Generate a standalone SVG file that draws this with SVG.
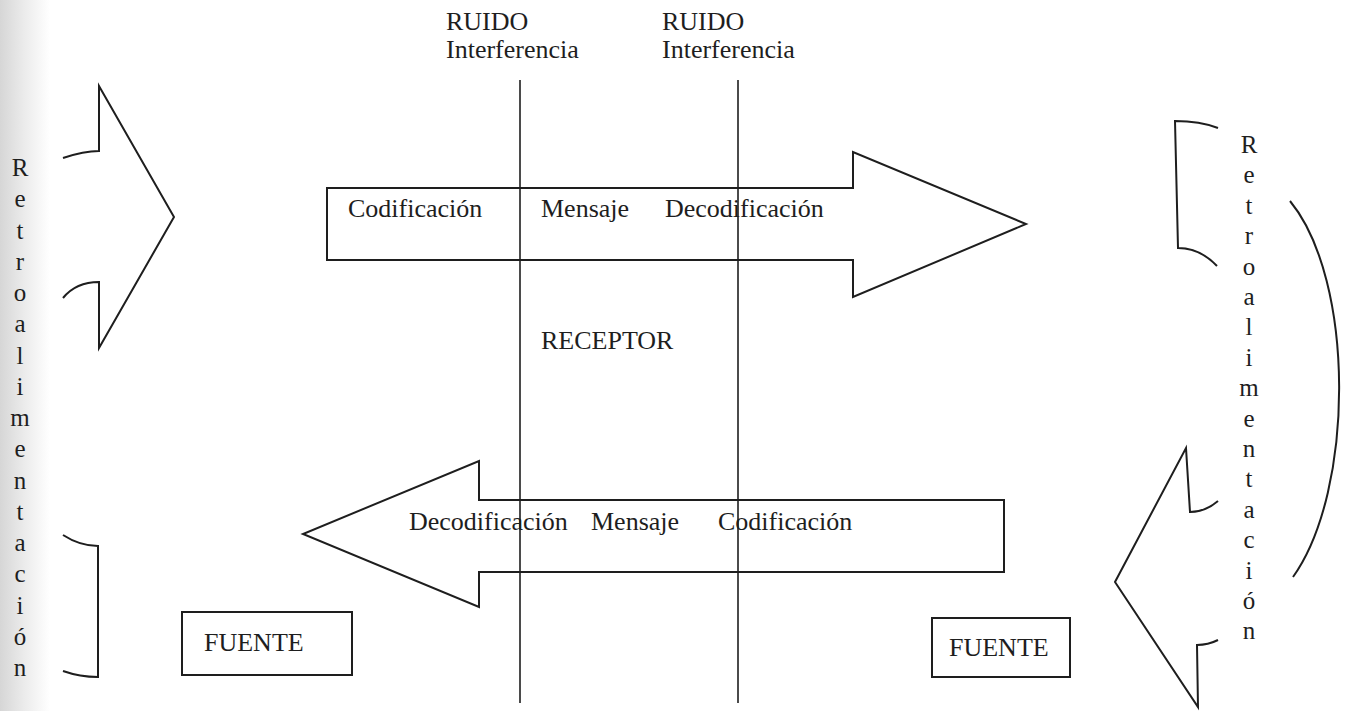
<svg xmlns="http://www.w3.org/2000/svg" width="1349" height="711" viewBox="0 0 1349 711">
  <defs>
    <linearGradient id="scan" x1="0" y1="0" x2="1" y2="0">
      <stop offset="0" stop-color="#d6d6d6"/>
      <stop offset="0.5" stop-color="#ececec"/>
      <stop offset="1" stop-color="#ffffff"/>
    </linearGradient>
  </defs>
  <style>
    .t { font-family: "Liberation Serif", "Times New Roman", serif; font-size: 26px; fill: #1e1e1e; }
    .col { font-family: "Liberation Serif", "Times New Roman", serif; font-size: 25px; fill: #1e1e1e; text-anchor: middle; }
    .s { fill: none; stroke: #1e1e1e; stroke-width: 2; stroke-linejoin: miter; }
    .box { fill: #ffffff; stroke: #1e1e1e; stroke-width: 2; }
    .arrow { fill: #ffffff; stroke: #1e1e1e; stroke-width: 2; stroke-linejoin: miter; }
    .line { stroke: #1e1e1e; stroke-width: 1.6; }
  </style>
  <rect x="0" y="0" width="1349" height="711" fill="#ffffff"/>
  <rect x="0" y="0" width="50" height="711" fill="url(#scan)"/>

  <g id="ruido-1">
    <text class="t" x="446" y="30">RUIDO</text>
    <text class="t" x="446" y="58">Interferencia</text>
  </g>
  <g id="ruido-2">
    <text class="t" x="662" y="30">RUIDO</text>
    <text class="t" x="662" y="58">Interferencia</text>
  </g>

  <g id="arrow-top">
    <path class="arrow" d="M327,188 L853,188 L853,152 L1026,224 L853,297 L853,260 L327,260 Z"/>
    <text class="t" x="348" y="217">Codificación</text>
    <text class="t" x="541" y="217">Mensaje</text>
    <text class="t" x="665" y="217">Decodificación</text>
  </g>

  <g id="arrow-bottom">
    <path class="arrow" d="M1004,500 L479,500 L479,461 L303,534 L479,607 L479,572 L1004,572 Z"/>
    <text class="t" x="409" y="530">Decodificación</text>
    <text class="t" x="591" y="530">Mensaje</text>
    <text class="t" x="718" y="530">Codificación</text>
  </g>

  <g id="receptor">
    <text class="t" x="541" y="349">RECEPTOR</text>
  </g>

  <g id="fuente-left">
    <rect class="box" x="182" y="612" width="170" height="63"/>
    <text class="t" x="204" y="651">FUENTE</text>
  </g>
  <g id="fuente-right">
    <rect class="box" x="932" y="618" width="138" height="59"/>
    <text class="t" x="949" y="656">FUENTE</text>
  </g>

  <g id="connectors">
    <line class="line" x1="520" y1="80" x2="520" y2="703"/>
    <line class="line" x1="738" y1="80" x2="738" y2="703"/>
  </g>

  <g id="feedback-left">
    <path class="s" d="M63,158 Q84,151 99,151 L99,86 L174,217 L99,348 L99,282 Q76,282 63,298"/>
    <path class="s" d="M63,535 Q80,546 98,546 L98,677 Q80,677 63,671"/>
    <text class="col" x="20" y="176">R</text>
    <text class="col" x="20" y="207">e</text>
    <text class="col" x="20" y="239">t</text>
    <text class="col" x="20" y="270">r</text>
    <text class="col" x="20" y="301">o</text>
    <text class="col" x="20" y="332">a</text>
    <text class="col" x="20" y="364">l</text>
    <text class="col" x="20" y="395">i</text>
    <text class="col" x="20" y="426">m</text>
    <text class="col" x="20" y="457">e</text>
    <text class="col" x="20" y="489">n</text>
    <text class="col" x="20" y="520">t</text>
    <text class="col" x="20" y="551">a</text>
    <text class="col" x="20" y="582">c</text>
    <text class="col" x="20" y="614">i</text>
    <text class="col" x="20" y="645">ó</text>
    <text class="col" x="20" y="676">n</text>
  </g>

  <g id="feedback-right">
    <path class="s" d="M1218,128 Q1200,121 1175,121 L1178,248 Q1200,248 1217,266"/>
    <path class="s" d="M1290,201 C1355,280 1355,490 1293,577"/>
    <path class="s" d="M1218,501 Q1205,512 1190,512 L1186,448 L1115,582 L1198,707 L1197,645 Q1208,645 1218,640"/>
    <text class="col" x="1249" y="153">R</text>
    <text class="col" x="1249" y="183">e</text>
    <text class="col" x="1249" y="214">t</text>
    <text class="col" x="1249" y="244">r</text>
    <text class="col" x="1249" y="275">o</text>
    <text class="col" x="1249" y="305">a</text>
    <text class="col" x="1249" y="335">l</text>
    <text class="col" x="1249" y="366">i</text>
    <text class="col" x="1249" y="396">m</text>
    <text class="col" x="1249" y="427">e</text>
    <text class="col" x="1249" y="457">n</text>
    <text class="col" x="1249" y="487">t</text>
    <text class="col" x="1249" y="518">a</text>
    <text class="col" x="1249" y="548">c</text>
    <text class="col" x="1249" y="579">i</text>
    <text class="col" x="1249" y="609">ó</text>
    <text class="col" x="1249" y="639">n</text>
  </g>
</svg>
